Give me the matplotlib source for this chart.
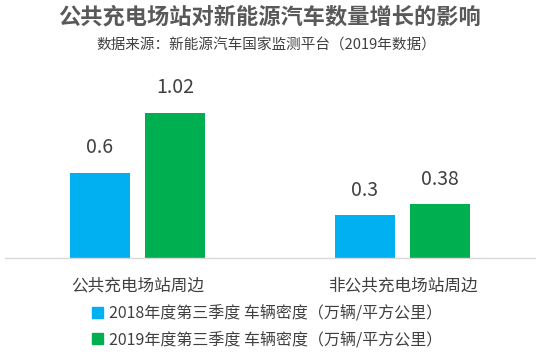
import numpy as np
import matplotlib
matplotlib.use('Agg')
import matplotlib.pyplot as plt
from matplotlib.patches import Patch

plt.rcParams['font.family'] = ['Noto Sans CJK SC', 'DejaVu Sans']

categories = ['公共充电场站周边', '非公共充电场站周边']
series_names = ['2018年度第三季度 车辆密度（万辆/平方公里）',
                '2019年度第三季度 车辆密度（万辆/平方公里）']
values_2018 = [0.6, 0.3]
values_2019 = [1.02, 0.38]
colors = ['#00B0F0', '#00B050']

title = '公共充电场站对新能源汽车数量增长的影响'
subtitle = '数据来源：新能源汽车国家监测平台（2019年数据）'

fig = plt.figure(figsize=(5.43, 3.58), dpi=100)
ax = fig.add_axes([0.0092, 0.2793, 0.976, 0.4777])

x = np.arange(len(categories))
offset = 0.1415
width = 0.223
for vals, dx, c in [(values_2018, -offset, colors[0]), (values_2019, offset, colors[1])]:
    rects = ax.bar(x + dx, vals, width, color=c)
    for r, v in zip(rects, vals):
        ax.text(r.get_x() + r.get_width() / 2, v + 0.1, '%g' % v,
                ha='center', va='bottom', fontsize=14, color='#404040')

ax.set_xlim(-0.5, 1.5)
ax.set_ylim(0, 1.2)
ax.set_yticks([])
ax.set_xticks(x)
ax.set_xticklabels(categories, fontsize=12, color='#404040')
ax.tick_params(axis='x', length=0, pad=14)
for s in ['top', 'left', 'right']:
    ax.spines[s].set_visible(False)
ax.spines['bottom'].set_color('#D9D9D9')
ax.spines['bottom'].set_linewidth(1)

fig.text(0.497, 1 - 17 / 358, title, ha='center', va='center',
         fontsize=16, fontweight='bold', color='#595959')
fig.text(0.49, 1 - 46 / 358, subtitle, ha='center', va='center',
         fontsize=10.5, color='#404040')

handles = [Patch(color=c) for c in colors]
fig.legend(handles, series_names, loc='center', bbox_to_anchor=(0.492, 1 - 326.5 / 358),
           frameon=False, fontsize=11.5, handlelength=0.7, handleheight=0.7,
           handletextpad=0.4, labelspacing=0.6, labelcolor='#404040')

fig.savefig('out.png', dpi=100)
